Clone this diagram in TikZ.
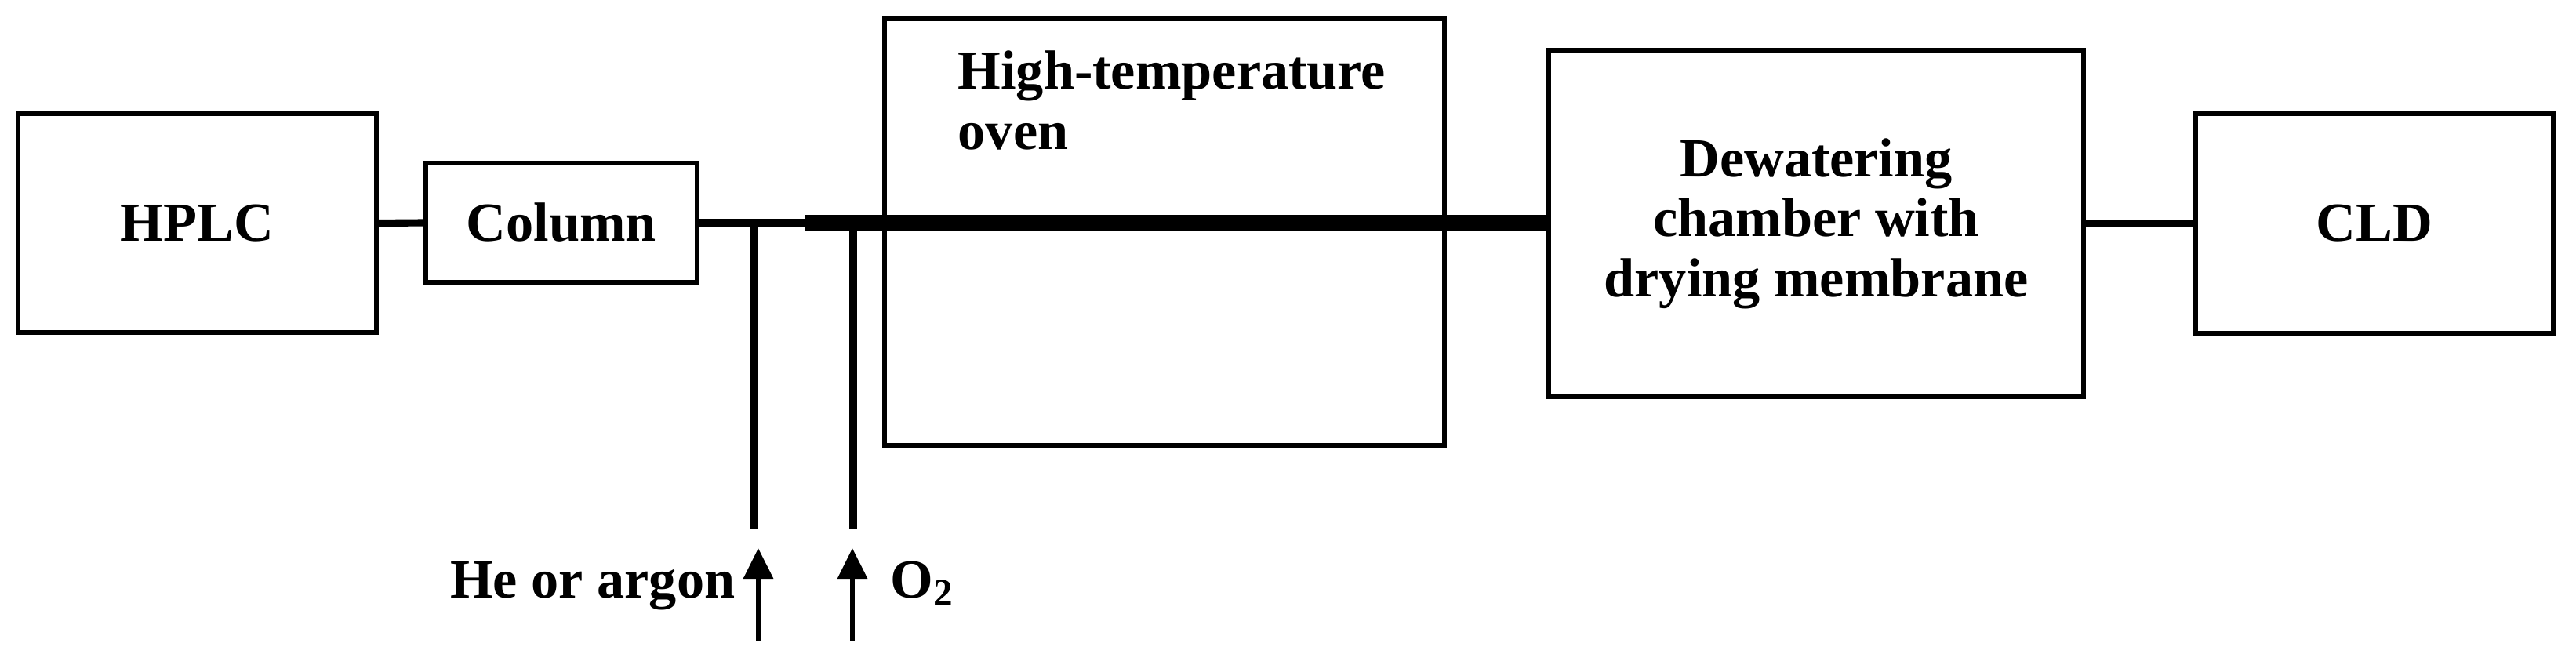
\documentclass[tikz,border=0pt]{standalone}
\usepackage{fontspec}
\setmainfont{Liberation Serif}
\usetikzlibrary{arrows.meta}
\begin{document}
\begin{tikzpicture}[
    unit/.style={draw, line width=1.7pt, inner sep=0pt, align=center},
    pipe/.style={line width=2.6pt},
    mainpipe/.style={line width=5.7pt},
    gasin/.style={line width=1.8pt, -{Triangle[width=0.37cm,length=0.39cm]}},
    every node/.style={font=\fontsize{20}{21.8}\selectfont\bfseries},
  ]
  \useasboundingbox (0,0) rectangle (32.85,8.33);
  \foreach \name/\x/\y/\w/\h/\txt in {hplc/2.515/5.485/4.57/2.79/HPLC,
      column/7.16/5.49/3.46/1.52/Column,
      oven/14.85/5.37/7.14/5.44/{},
      dewater/23.16/5.48/6.82/4.42/{Dewatering\\chamber with\\drying membrane},
      cld/30.28/5.48/4.56/2.80/CLD}
    { \node[unit, minimum width=\w cm, minimum height=\h cm] (\name) at (\x,\y) {\txt}; }
  \node[anchor=base west, align=left, inner sep=0pt] (ovenlbl) at (12.21,6.43) {High-temperature\\oven};

  \coordinate (split) at (10.27,5.49);
  \coordinate (hetap) at (9.62,5.49);
  \coordinate (heend) at (9.62,1.59);
  \coordinate (otap) at (10.88,5.49);
  \coordinate (oend) at (10.88,1.59);
  \coordinate (hesrc) at (9.67,0.16);
  \coordinate (hetip) at (9.67,1.34);
  \coordinate (osrc) at (10.87,0.16);
  \coordinate (otip) at (10.87,1.34);

  \draw[pipe] (hplc.east) -- (column.west);
  \draw[pipe] (column.east) -- (split);
  \draw[mainpipe] (split) -- (split -| dewater.west);
  \draw[pipe] (dewater.east) -- (cld.west);
  \draw[pipe] (hetap) -- (heend);
  \draw[pipe] (otap) -- (oend);

  \draw[gasin] (hesrc) -- (hetip);
  \draw[gasin] (osrc) -- (otip);
  \node[anchor=base east, inner sep=0pt] (helbl) at (9.38,0.71) {He or argon};
  \node[anchor=base west, inner sep=0pt] (olbl) at (11.35,0.71) {O\textsubscript{2}};
\end{tikzpicture}
\end{document}
